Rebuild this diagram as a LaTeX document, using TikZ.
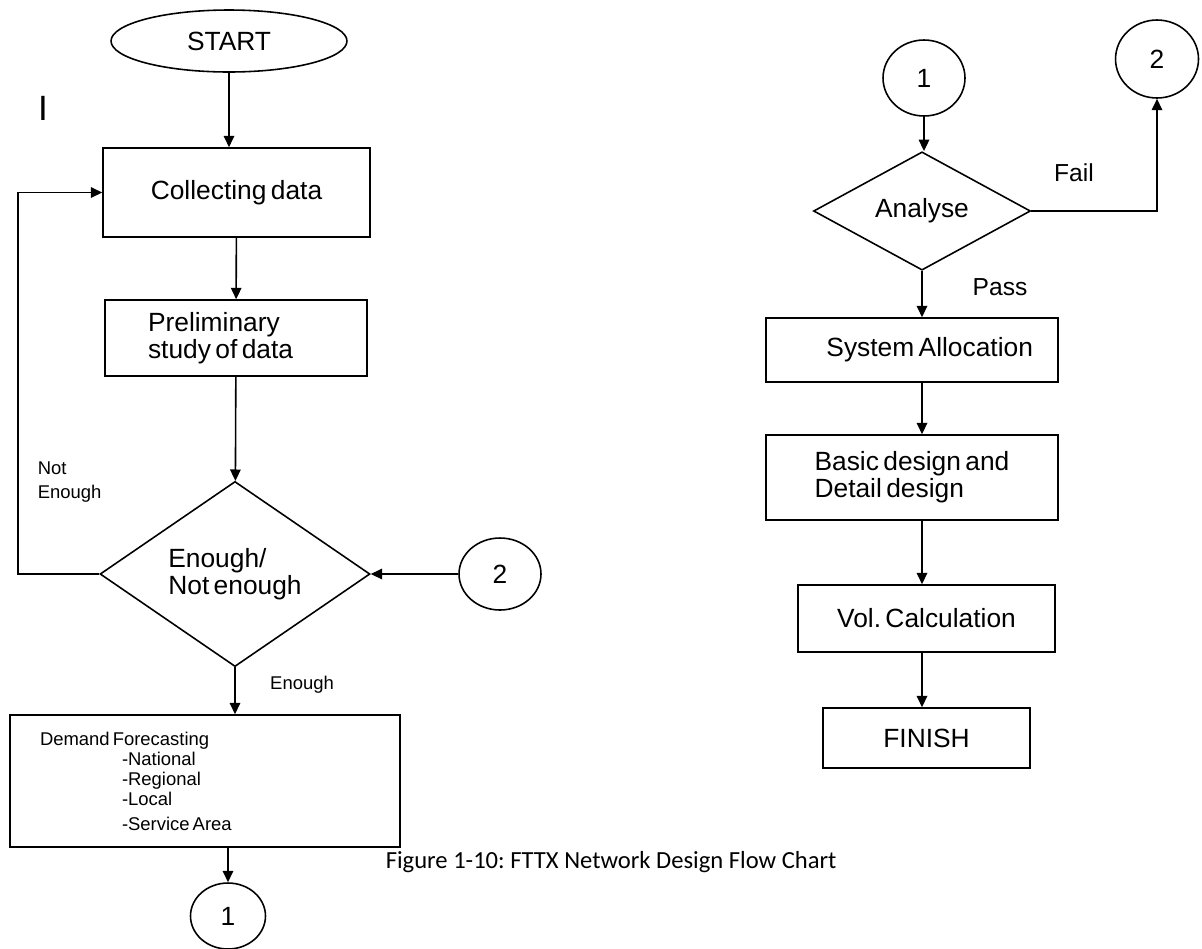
\documentclass[tikz,border=0pt]{standalone}
\usepackage{fontspec}
\setmainfont[WordSpace=0.6]{Liberation Sans}
\newfontfamily\capfont{Carlito}
\usetikzlibrary{shapes.geometric,arrows.meta}
\frenchspacing

\begin{document}
\begin{tikzpicture}[x=0.02cm,y=-0.02cm,line width=0.9pt,
  box/.style={draw, rectangle, inner sep=0pt, font=\fontsize{15}{15.5}\selectfont},
  term/.style={draw, ellipse, inner sep=0pt, font=\fontsize{15}{18}\selectfont},
  conn/.style={draw, ellipse, inner sep=0pt, font=\fontsize{15}{18}\selectfont},
  decide/.style={draw, diamond, inner sep=0pt, font=\fontsize{15}{15.5}\selectfont},
  small/.style={inner sep=0pt, font=\fontsize{10.5}{14}\selectfont},
  lbl/.style={inner sep=0pt, font=\fontsize{14}{16}\selectfont},
  arr/.style={-{Triangle[length=6.5pt,width=6pt]}}]
\useasboundingbox (0,0) rectangle (1202,948);
\clip (0,0) rectangle (1202,948);

% left column
\node[term, minimum width=4.72cm, minimum height=1.24cm] (start) at (229,41){START};
\node[inner sep=0pt, font=\fontsize{20}{22}\selectfont] (cursor) at (43,108){I};
\node[box, minimum width=5.34cm, minimum height=1.78cm] (collect) at (236.5,192.5){Collecting data};
\node[box, minimum height=1.52cm, text width=3.52cm, inner xsep=0.86cm, align=flush left] (prelim) at (236,338){Preliminary\\study of data};
\node[decide, minimum width=5.4cm, minimum height=3.56cm, align=left] (dec1) at (235,574){Enough/\\Not enough};
\node[conn, minimum width=1.64cm, minimum height=1.44cm] (conn2a) at (500,574){2};
\node[box, minimum height=2.64cm, text width=6.6cm, inner xsep=0.6cm, align=flush left,
  font=\fontsize{10.5}{11.4}\selectfont] (demand) at (205,781){Demand Forecasting\\
  \hspace*{1.64cm}-National\\\hspace*{1.64cm}-Regional\\\hspace*{1.64cm}-Local\\[2.8pt]
  \hspace*{1.64cm}-Service Area};
\node[conn, minimum width=1.5cm, minimum height=1.32cm] (conn1a) at (228,916){1};
\coordinate (loopc) at (18,574);

\node[small, anchor=west, align=left] (notenough) at (37,482){Not\\Enough};
\node[small] (enough) at (302,685){Enough};

\draw[arr] (start) -- (start |- collect.north);
\draw[arr] (collect) -- (prelim);
\draw[arr] (prelim) -- (dec1);
\draw[arr] (conn2a) -- (dec1.east);
\draw[arr] (dec1) -- (dec1 |- demand.north);
\draw[arr] (dec1.west) -- (loopc) |- (collect.west);
\draw[arr] (demand.south -| conn1a) -- (conn1a);

% right column
\node[conn, minimum width=1.64cm, minimum height=1.52cm] (conn1b) at (924,78){1};
\node[conn, minimum width=1.66cm, minimum height=1.56cm] (conn2b) at (1157,59){2};
\node[decide, minimum width=4.34cm, minimum height=2.2cm] (dec2) at (922,211){Analyse};
\node[box, minimum height=1.28cm, text width=4.84cm, inner xsep=0.5cm, align=flush right] (sysalloc) at (912,350){System Allocation};
\node[box, minimum width=5.84cm, minimum height=1.7cm, align=left] (basic) at (912,477.5){Basic design and\\Detail design};
\node[box, minimum width=5.14cm, minimum height=1.34cm] (vol) at (926.5,618.5){Vol. Calculation};
\node[box, minimum width=4.14cm, minimum height=1.2cm] (finish) at (926.5,738){FINISH};

\node[lbl] (fail) at (1074,173){Fail};
\node[lbl] (pass) at (1000,287){Pass};

\draw[arr] (conn1b) -- (conn1b |- dec2.north);
\draw[arr] (dec2.east) -| (conn2b);
\draw[arr] (dec2) -- (dec2 |- sysalloc.north);
\draw[arr] (dec2 |- sysalloc.south) -- (dec2 |- basic.north);
\draw[arr] (dec2 |- basic.south) -- (dec2 |- vol.north);
\draw[arr] (dec2 |- vol.south) -- (dec2 |- finish.north);

\node[anchor=west, inner sep=0pt, font=\capfont\fontsize{14}{16}\selectfont] (caption) at (385,862){Figure 1-10: FTTX Network Design Flow Chart};
\end{tikzpicture}
\end{document}
